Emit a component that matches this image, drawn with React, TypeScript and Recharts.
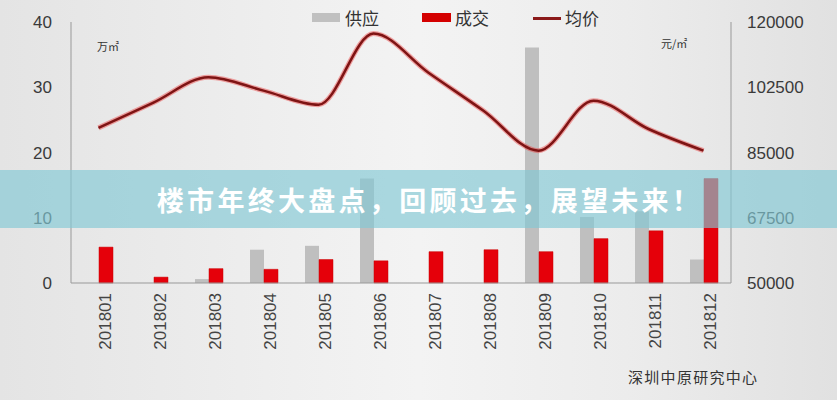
import React from 'react';
import { ComposedChart, Bar, Line, XAxis, YAxis } from 'recharts';

const months = ['201801', '201802', '201803', '201804', '201805', '201806', '201807', '201808', '201809', '201810', '201811', '201812'];
const supply = [0, 0, 0.6, 5.1, 5.7, 16, 0, 0, 36.1, 10.1, 11, 3.6];
const deals = [5.5, 0.9, 2.2, 2.1, 3.6, 3.4, 4.8, 5.1, 4.8, 6.8, 8.0, 16.0];
const avgPrice = [91600, 98400, 105200, 101600, 97800, 116900, 106400, 96200, 85500, 98900, 91300, 85500];

const leftTicks = [0, 10, 20, 30, 40];
const rightTicks = [50000, 67500, 85000, 102500, 120000];
const seriesNames = ['供应', '成交', '均价'];

const title = '楼市年终大盘点，回顾过去，展望未来！';
const source = '深圳中原研究中心';

const chartData = months.map((m, i) => ({
    month: m,
    supply: supply[i],
    deals: deals[i],
    price: avgPrice[i],
}));

const latin = '"Liberation Sans", Arial, sans-serif';
const cjk = '"Noto Sans CJK SC", "Noto Sans", sans-serif';

const App: React.FC = () => {
    return (
        <div
            style={{
                position: 'absolute',
                left: 0,
                top: 0,
                width: 837,
                height: 400,
                overflow: 'hidden',
                background: 'linear-gradient(90deg, #e4e4e4 0%, #efefef 35%, #f3f3f3 50%, #ececec 75%, #e1e1e1 100%)',
            }}
        >
            <ComposedChart
                width={837}
                height={400}
                data={chartData}
                margin={{ top: 22, right: 0, left: 0, bottom: 47 }}
                barGap={0}
                barSize={14}
            >
                <XAxis
                    dataKey="month"
                    height={70}
                    interval={0}
                    stroke="#999"
                    tickLine={false}
                    tickSize={0}
                    tickMargin={10}
                    tick={{ angle: -90, textAnchor: 'end', verticalAnchor: 'middle', fill: '#444', fontSize: 17, fontFamily: latin }}
                />
                <YAxis
                    yAxisId="left"
                    width={71}
                    domain={[0, 40]}
                    ticks={leftTicks}
                    stroke="#999"
                    tickLine={false}
                    tickSize={0}
                    tickMargin={19}
                    tick={{ fill: '#3a3a3a', fontSize: 17, fontFamily: latin }}
                />
                <YAxis
                    yAxisId="right"
                    orientation="right"
                    width={106}
                    domain={[50000, 120000]}
                    ticks={rightTicks}
                    stroke="#999"
                    tickLine={false}
                    tickSize={0}
                    tickMargin={16}
                    tick={{ fill: '#3a3a3a', fontSize: 17, fontFamily: latin, textAnchor: 'start' }}
                />
                <Bar yAxisId="left" dataKey="supply" name={seriesNames[0]} fill="#bfbfbf" isAnimationActive={false} />
                <Bar yAxisId="left" dataKey="deals" name={seriesNames[1]} fill="#e5000a" stroke="#c80000" strokeWidth={0.5} isAnimationActive={false} />
                <Line
                    yAxisId="right"
                    dataKey="price"
                    type="monotone"
                    stroke="rgba(235, 60, 60, 0.45)"
                    strokeWidth={5}
                    dot={false}
                    activeDot={false}
                    legendType="none"
                    isAnimationActive={false}
                />
                <Line
                    yAxisId="right"
                    dataKey="price"
                    name={seriesNames[2]}
                    type="monotone"
                    stroke="#7e1414"
                    strokeWidth={2.5}
                    dot={false}
                    activeDot={false}
                    isAnimationActive={false}
                />
            </ComposedChart>

            {/* legend */}
            <div style={{ position: 'absolute', left: 312, top: 13, width: 28, height: 9, background: '#c0c0c0' }} />
            <div style={{ position: 'absolute', left: 345, top: 6, fontSize: 17, fontFamily: cjk, color: '#333', lineHeight: '24px' }}>{seriesNames[0]}</div>
            <div style={{ position: 'absolute', left: 422, top: 13, width: 29, height: 9, background: '#d40000' }} />
            <div style={{ position: 'absolute', left: 455, top: 6, fontSize: 17, fontFamily: cjk, color: '#333', lineHeight: '24px' }}>{seriesNames[1]}</div>
            <div style={{ position: 'absolute', left: 533, top: 17, width: 28, height: 3, background: '#8b1a1a' }} />
            <div style={{ position: 'absolute', left: 565, top: 6, fontSize: 17, fontFamily: cjk, color: '#333', lineHeight: '24px' }}>{seriesNames[2]}</div>

            {/* units */}
            <div style={{ position: 'absolute', left: 97, top: 38, fontSize: 11, fontFamily: cjk, color: '#333' }}>万㎡</div>
            <div style={{ position: 'absolute', left: 661, top: 35, fontSize: 11, fontFamily: cjk, color: '#333' }}>元/㎡</div>

            {/* banner */}
            <div
                style={{
                    position: 'absolute',
                    left: 0,
                    top: 170,
                    width: 837,
                    height: 58,
                    background: 'rgba(130, 200, 212, 0.66)',
                    display: 'flex',
                    alignItems: 'center',
                    justifyContent: 'center',
                }}
            >
                <span
                    style={{
                        color: '#fff',
                        fontFamily: cjk,
                        fontWeight: 700,
                        fontSize: 27,
                        letterSpacing: 3.3,
                        marginLeft: 22,
                    }}
                >
                    {title}
                </span>
            </div>

            {/* source */}
            <div style={{ position: 'absolute', left: 628, top: 367, fontSize: 15, letterSpacing: 1.3, fontFamily: cjk, color: '#333', lineHeight: '20px' }}>
                {source}
            </div>
        </div>
    );
};

export default App;
